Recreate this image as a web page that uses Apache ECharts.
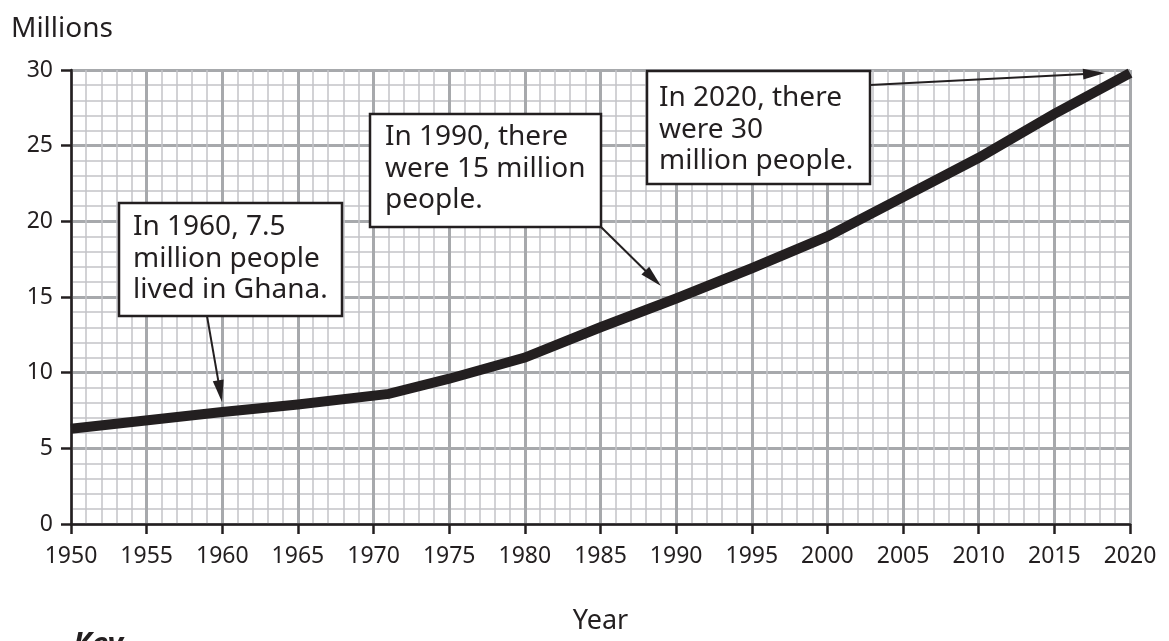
<!DOCTYPE html>
<html>
<head>
<meta charset="utf-8">
<script src="https://cdn.jsdelivr.net/npm/echarts@6/dist/echarts.min.js"></script>
<style>
html,body{margin:0;padding:0;background:#fff;}
#chart{width:1169px;height:641px;}
</style>
</head>
<body>
<div id="chart"></div>
<script>
// Population of Ghana (millions)
const years = [1950, 1960, 1965, 1971, 1975, 1980, 1985, 1990, 1995, 2000, 2005, 2010, 2015, 2020];
const population = [6.3, 7.4, 7.9, 8.6, 9.6, 11.0, 13.0, 14.9, 16.9, 19.0, 21.6, 24.2, 27.1, 29.8];
const xTicks = [1950, 2020, 5];
const yTicks = [0, 30, 5];
const yAxisTitle = 'Millions';
const xAxisTitle = 'Year';
const notes = [
  'In 1960, 7.5\nmillion people\nlived in Ghana.',
  'In 1990, there\nwere 15 million\npeople.',
  'In 2020, there\nwere 30\nmillion people.'
];
const keyLabel = 'Key';

const INK = '#231f20';
const FONT = '"Noto Sans", "Open Sans", sans-serif';

const chart = echarts.init(document.getElementById('chart'), null, {renderer: 'canvas'});

function arrow(x1, y1, x2, y2) {
  const dx = x2 - x1, dy = y2 - y1;
  const len = Math.sqrt(dx * dx + dy * dy);
  const ux = dx / len, uy = dy / len;
  const hl = 22, hw = 5.5;
  const bx = x2 - ux * hl, by = y2 - uy * hl;
  return [
    {type: 'line', z: 100, shape: {x1: x1, y1: y1, x2: bx + ux * 2, y2: by + uy * 2},
     style: {stroke: INK, lineWidth: 2}},
    {type: 'polygon', z: 100, shape: {points: [[x2, y2], [bx - uy * hw, by + ux * hw], [bx + uy * hw, by - ux * hw]]},
     style: {fill: INK}}
  ];
}
function box(x, y, w, h) {
  return {type: 'rect', z: 100, shape: {x: x, y: y, width: w, height: h},
    style: {fill: '#fff', stroke: INK, lineWidth: 2.5}};
}
function note(text, x, y) {
  return {type: 'text', z: 101, x: x, y: y,
    style: {text: text, font: '28px ' + FONT, fill: INK, lineHeight: 31.7, verticalAlign: 'top', align: 'left'}};
}

const graphics = [
  {type: 'text', x: 11, y: 15, style: {text: yAxisTitle, font: '28px ' + FONT, fill: INK, verticalAlign: 'top'}},
  {type: 'text', x: 73, y: 630, style: {text: keyLabel, font: 'italic bold 30px ' + FONT, fill: INK, verticalAlign: 'top'}},
  box(119, 203, 223, 113),
  note(notes[0], 133, 211),
  ...arrow(207, 316, 222, 402),
  box(370, 114, 231, 113),
  note(notes[1], 385, 121),
  ...arrow(601, 227, 661, 286),
  box(647, 71, 223, 113),
  note(notes[2], 659, 82),
  ...arrow(870, 85, 1105, 73)
];

chart.setOption({
  animation: false,
  backgroundColor: '#fff',
  grid: {left: 71, right: 39, top: 70, bottom: 117, containLabel: false},
  xAxis: {
    type: 'value', min: xTicks[0], max: xTicks[1], interval: xTicks[2],
    name: xAxisTitle, nameLocation: 'middle', nameGap: 84,
    nameTextStyle: {fontSize: 27, color: INK, fontFamily: FONT},
    axisLine: {show: true, onZero: false, lineStyle: {color: INK, width: 2.5}},
    axisTick: {show: true, length: 10, lineStyle: {color: INK, width: 2.5}},
    axisLabel: {fontSize: 23, color: INK, fontFamily: FONT, margin: 21, formatter: v => String(v)},
    splitLine: {show: true, lineStyle: {color: '#a7a9ac', width: 3}},
    minorTick: {show: false, splitNumber: 5},
    minorSplitLine: {show: true, lineStyle: {color: '#c3c4c7', width: 1.5}}
  },
  yAxis: {
    type: 'value', min: yTicks[0], max: yTicks[1], interval: yTicks[2],
    axisLine: {show: true, lineStyle: {color: INK, width: 2.5}},
    axisTick: {show: true, length: 10, lineStyle: {color: INK, width: 2.5}},
    axisLabel: {fontSize: 23, color: INK, fontFamily: FONT, margin: 18},
    splitLine: {show: true, lineStyle: {color: '#a7a9ac', width: 3}},
    minorTick: {show: false, splitNumber: 5},
    minorSplitLine: {show: true, lineStyle: {color: '#c3c4c7', width: 1.5}}
  },
  series: [{
    type: 'line',
    data: years.map((y, i) => [y, population[i]]),
    showSymbol: false,
    symbol: 'none',
    z: 5,
    lineStyle: {color: INK, width: 10, cap: 'butt', join: 'miter'}
  }],
  graphic: graphics
});
</script>
</body>
</html>
